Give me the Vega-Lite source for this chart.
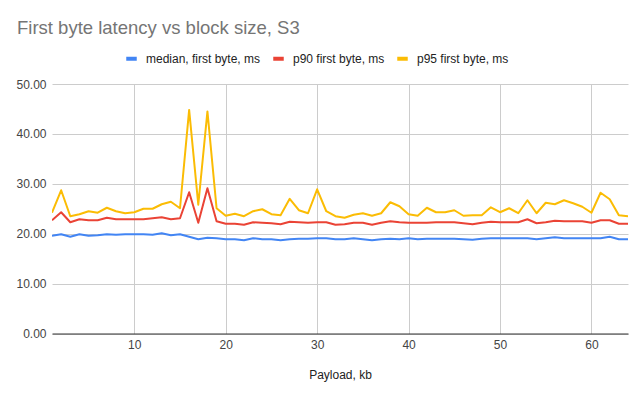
{
  "$schema": "https://vega.github.io/schema/vega-lite/v6.json",
  "autosize": {"type": "none"},
  "width": 576,
  "height": 249.5,
  "padding": {"left": 52, "top": 84, "right": 16, "bottom": 64.5},
  "background": "white",
  "title": {
    "text": "First byte latency vs block size, S3",
    "anchor": "start",
    "frame": "group",
    "dx": -35,
    "offset": 14,
    "font": "Liberation Sans, Arial, sans-serif",
    "fontSize": 18.5,
    "fontWeight": "normal",
    "color": "#757575"
  },
  "config": {
    "view": {"stroke": null},
    "font": "Liberation Sans, Arial, sans-serif"
  },
  "data": {
    "values": [
      {"x": 1, "median, first byte, ms": 19.6, "p90 first byte, ms": 22.7, "p95 first byte, ms": 24.2},
      {"x": 2, "median, first byte, ms": 19.9, "p90 first byte, ms": 24.3, "p95 first byte, ms": 28.7},
      {"x": 3, "median, first byte, ms": 19.4, "p90 first byte, ms": 22.3, "p95 first byte, ms": 23.5},
      {"x": 4, "median, first byte, ms": 19.9, "p90 first byte, ms": 22.9, "p95 first byte, ms": 23.9},
      {"x": 5, "median, first byte, ms": 19.6, "p90 first byte, ms": 22.7, "p95 first byte, ms": 24.5},
      {"x": 6, "median, first byte, ms": 19.7, "p90 first byte, ms": 22.7, "p95 first byte, ms": 24.2},
      {"x": 7, "median, first byte, ms": 19.9, "p90 first byte, ms": 23.2, "p95 first byte, ms": 25.2},
      {"x": 8, "median, first byte, ms": 19.8, "p90 first byte, ms": 22.9, "p95 first byte, ms": 24.5},
      {"x": 9, "median, first byte, ms": 19.9, "p90 first byte, ms": 22.9, "p95 first byte, ms": 24.1},
      {"x": 10, "median, first byte, ms": 19.9, "p90 first byte, ms": 22.9, "p95 first byte, ms": 24.3},
      {"x": 11, "median, first byte, ms": 19.9, "p90 first byte, ms": 22.9, "p95 first byte, ms": 25.0},
      {"x": 12, "median, first byte, ms": 19.8, "p90 first byte, ms": 23.1, "p95 first byte, ms": 25.0},
      {"x": 13, "median, first byte, ms": 20.1, "p90 first byte, ms": 23.3, "p95 first byte, ms": 25.9},
      {"x": 14, "median, first byte, ms": 19.7, "p90 first byte, ms": 22.9, "p95 first byte, ms": 26.4},
      {"x": 15, "median, first byte, ms": 19.9, "p90 first byte, ms": 23.1, "p95 first byte, ms": 25.1},
      {"x": 16, "median, first byte, ms": 19.4, "p90 first byte, ms": 28.3, "p95 first byte, ms": 44.8},
      {"x": 17, "median, first byte, ms": 18.9, "p90 first byte, ms": 22.2, "p95 first byte, ms": 25.8},
      {"x": 18, "median, first byte, ms": 19.2, "p90 first byte, ms": 29.1, "p95 first byte, ms": 44.5},
      {"x": 19, "median, first byte, ms": 19.1, "p90 first byte, ms": 22.5, "p95 first byte, ms": 25.1},
      {"x": 20, "median, first byte, ms": 18.9, "p90 first byte, ms": 22.0, "p95 first byte, ms": 23.6},
      {"x": 21, "median, first byte, ms": 18.9, "p90 first byte, ms": 22.0, "p95 first byte, ms": 24.0},
      {"x": 22, "median, first byte, ms": 18.7, "p90 first byte, ms": 21.8, "p95 first byte, ms": 23.5},
      {"x": 23, "median, first byte, ms": 19.1, "p90 first byte, ms": 22.3, "p95 first byte, ms": 24.5},
      {"x": 24, "median, first byte, ms": 18.9, "p90 first byte, ms": 22.2, "p95 first byte, ms": 24.9},
      {"x": 25, "median, first byte, ms": 18.9, "p90 first byte, ms": 22.1, "p95 first byte, ms": 23.9},
      {"x": 26, "median, first byte, ms": 18.7, "p90 first byte, ms": 21.9, "p95 first byte, ms": 23.7},
      {"x": 27, "median, first byte, ms": 18.9, "p90 first byte, ms": 22.4, "p95 first byte, ms": 27.0},
      {"x": 28, "median, first byte, ms": 19.0, "p90 first byte, ms": 22.3, "p95 first byte, ms": 24.7},
      {"x": 29, "median, first byte, ms": 19.0, "p90 first byte, ms": 22.2, "p95 first byte, ms": 24.1},
      {"x": 30, "median, first byte, ms": 19.1, "p90 first byte, ms": 22.3, "p95 first byte, ms": 28.9},
      {"x": 31, "median, first byte, ms": 19.1, "p90 first byte, ms": 22.3, "p95 first byte, ms": 24.5},
      {"x": 32, "median, first byte, ms": 18.9, "p90 first byte, ms": 21.8, "p95 first byte, ms": 23.5},
      {"x": 33, "median, first byte, ms": 18.9, "p90 first byte, ms": 21.9, "p95 first byte, ms": 23.2},
      {"x": 34, "median, first byte, ms": 19.1, "p90 first byte, ms": 22.2, "p95 first byte, ms": 23.8},
      {"x": 35, "median, first byte, ms": 18.9, "p90 first byte, ms": 22.2, "p95 first byte, ms": 24.1},
      {"x": 36, "median, first byte, ms": 18.7, "p90 first byte, ms": 21.8, "p95 first byte, ms": 23.6},
      {"x": 37, "median, first byte, ms": 18.9, "p90 first byte, ms": 22.2, "p95 first byte, ms": 24.1},
      {"x": 38, "median, first byte, ms": 19.0, "p90 first byte, ms": 22.5, "p95 first byte, ms": 26.3},
      {"x": 39, "median, first byte, ms": 18.9, "p90 first byte, ms": 22.3, "p95 first byte, ms": 25.5},
      {"x": 40, "median, first byte, ms": 19.1, "p90 first byte, ms": 22.2, "p95 first byte, ms": 23.9},
      {"x": 41, "median, first byte, ms": 18.9, "p90 first byte, ms": 22.2, "p95 first byte, ms": 23.6},
      {"x": 42, "median, first byte, ms": 19.0, "p90 first byte, ms": 22.2, "p95 first byte, ms": 25.2},
      {"x": 43, "median, first byte, ms": 19.0, "p90 first byte, ms": 22.3, "p95 first byte, ms": 24.3},
      {"x": 44, "median, first byte, ms": 19.0, "p90 first byte, ms": 22.3, "p95 first byte, ms": 24.3},
      {"x": 45, "median, first byte, ms": 19.0, "p90 first byte, ms": 22.3, "p95 first byte, ms": 24.7},
      {"x": 46, "median, first byte, ms": 18.9, "p90 first byte, ms": 22.1, "p95 first byte, ms": 23.6},
      {"x": 47, "median, first byte, ms": 18.8, "p90 first byte, ms": 21.9, "p95 first byte, ms": 23.7},
      {"x": 48, "median, first byte, ms": 19.0, "p90 first byte, ms": 22.2, "p95 first byte, ms": 23.7},
      {"x": 49, "median, first byte, ms": 19.1, "p90 first byte, ms": 22.4, "p95 first byte, ms": 25.3},
      {"x": 50, "median, first byte, ms": 19.1, "p90 first byte, ms": 22.3, "p95 first byte, ms": 24.3},
      {"x": 51, "median, first byte, ms": 19.1, "p90 first byte, ms": 22.3, "p95 first byte, ms": 25.1},
      {"x": 52, "median, first byte, ms": 19.1, "p90 first byte, ms": 22.3, "p95 first byte, ms": 24.1},
      {"x": 53, "median, first byte, ms": 19.1, "p90 first byte, ms": 22.9, "p95 first byte, ms": 26.7},
      {"x": 54, "median, first byte, ms": 18.9, "p90 first byte, ms": 22.1, "p95 first byte, ms": 24.1},
      {"x": 55, "median, first byte, ms": 19.1, "p90 first byte, ms": 22.3, "p95 first byte, ms": 26.2},
      {"x": 56, "median, first byte, ms": 19.3, "p90 first byte, ms": 22.6, "p95 first byte, ms": 25.9},
      {"x": 57, "median, first byte, ms": 19.1, "p90 first byte, ms": 22.5, "p95 first byte, ms": 26.7},
      {"x": 58, "median, first byte, ms": 19.1, "p90 first byte, ms": 22.5, "p95 first byte, ms": 26.1},
      {"x": 59, "median, first byte, ms": 19.1, "p90 first byte, ms": 22.5, "p95 first byte, ms": 25.4},
      {"x": 60, "median, first byte, ms": 19.1, "p90 first byte, ms": 22.2, "p95 first byte, ms": 24.2},
      {"x": 61, "median, first byte, ms": 19.1, "p90 first byte, ms": 22.7, "p95 first byte, ms": 28.2},
      {"x": 62, "median, first byte, ms": 19.4, "p90 first byte, ms": 22.7, "p95 first byte, ms": 26.9},
      {"x": 63, "median, first byte, ms": 18.9, "p90 first byte, ms": 22.0, "p95 first byte, ms": 23.7},
      {"x": 64, "median, first byte, ms": 18.9, "p90 first byte, ms": 22.0, "p95 first byte, ms": 23.5}
    ]
  },
  "transform": [
    {"fold": ["median, first byte, ms", "p90 first byte, ms", "p95 first byte, ms"], "as": ["series", "value"]}
  ],
  "mark": {"type": "line", "strokeWidth": 2, "strokeJoin": "round", "clip": true},
  "encoding": {
    "x": {
      "field": "x",
      "type": "quantitative",
      "scale": {"domain": [1, 64], "nice": false, "zero": false},
      "axis": {
        "title": "Payload, kb",
        "values": [10, 20, 30, 40, 50, 60],
        "format": "d",
        "grid": true,
        "gridColor": "#cccccc",
        "gridWidth": 1,
        "domain": true,
        "domainColor": "#333333",
        "domainWidth": 1,
        "ticks": false,
        "labelPadding": 6,
        "labelFontSize": 12,
        "labelColor": "#444444",
        "labelFont": "Liberation Sans, Arial, sans-serif",
        "titleFont": "Liberation Sans, Arial, sans-serif",
        "titleFontSize": 12,
        "titleFontWeight": "normal",
        "titleColor": "#222222",
        "titlePadding": 19
      }
    },
    "y": {
      "field": "value",
      "type": "quantitative",
      "scale": {"domain": [0, 50], "nice": false},
      "axis": {
        "title": null,
        "values": [0, 10, 20, 30, 40, 50],
        "format": ".2f",
        "grid": true,
        "gridColor": "#cccccc",
        "gridWidth": 1,
        "domain": false,
        "ticks": false,
        "labelPadding": 6,
        "labelFontSize": 12,
        "labelColor": "#444444",
        "labelFont": "Liberation Sans, Arial, sans-serif"
      }
    },
    "color": {
      "field": "series",
      "type": "nominal",
      "scale": {
        "domain": ["median, first byte, ms", "p90 first byte, ms", "p95 first byte, ms"],
        "range": ["#4285F4", "#EA4335", "#FBBC04"]
      },
      "legend": {
        "title": null,
        "orient": "none",
        "direction": "horizontal",
        "legendX": 72,
        "legendY": -33,
        "symbolType": "stroke",
        "symbolSize": 110,
        "symbolStrokeWidth": 4,
        "labelFontSize": 12,
        "labelColor": "#222222",
        "labelFont": "Liberation Sans, Arial, sans-serif",
        "labelOffset": 7,
        "columnPadding": 4
      }
    },
    "order": {"field": "x", "type": "quantitative"}
  }
}
